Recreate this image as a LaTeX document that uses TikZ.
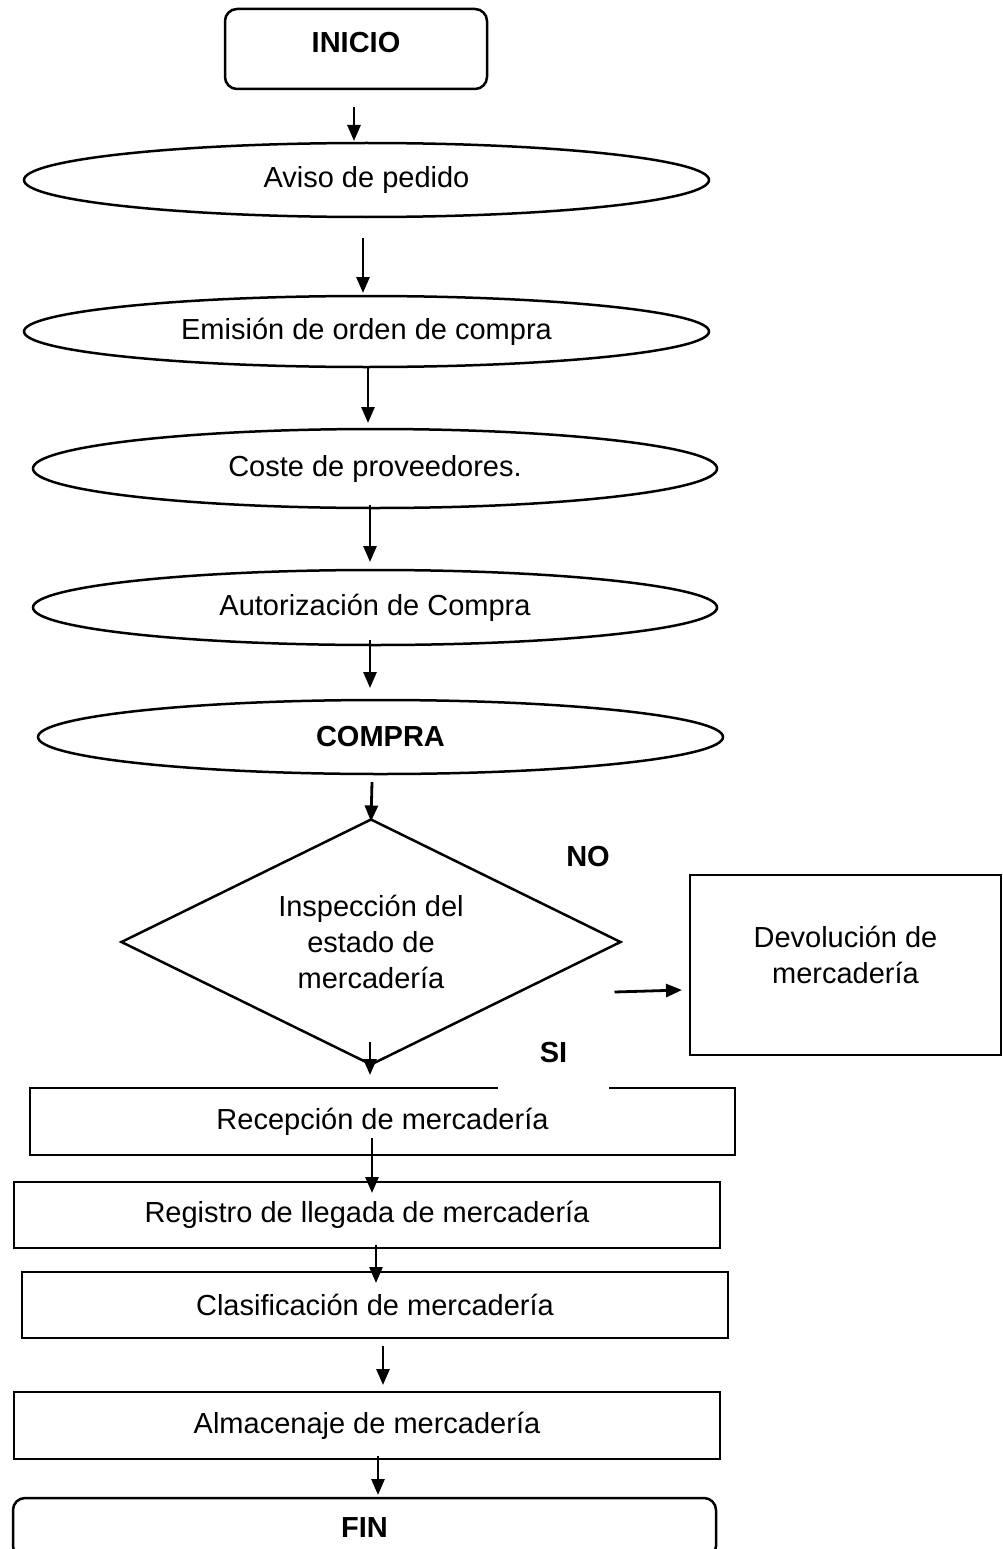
\documentclass[tikz,border=0pt]{standalone}
\usepackage{fontspec}
\setmainfont{Liberation Sans}
\usetikzlibrary{shapes,arrows.meta,positioning,calc}

\begin{document}
\begin{tikzpicture}[x=1pt, y=-1pt, >={Triangle[length=16pt,width=13pt]}]
  \tikzstyle{terminal}=[rectangle, draw, line width=2.5pt, rounded corners=12pt, outer sep=0pt, font=\bfseries\fontsize{29}{36}\selectfont]
  \tikzstyle{actividad}=[ellipse, draw, line width=2.5pt, minimum width=685pt, minimum height=74pt, inner sep=0pt, outer sep=0pt, font=\fontsize{29}{36}\selectfont]
  \tikzstyle{decision}=[diamond, draw, line width=2.5pt, aspect=2, minimum width=499pt, minimum height=245pt, inner sep=0pt, outer sep=0pt, align=center, font=\fontsize{29}{36}\selectfont]
  \tikzstyle{caja}=[rectangle, draw, line width=2.5pt, minimum width=706pt, minimum height=66pt, outer sep=0pt, align=center, font=\fontsize{29}{36}\selectfont]
  \tikzstyle{etiqueta}=[inner sep=2pt, font=\bfseries\fontsize{29}{36}\selectfont]
  \tikzstyle{flecha}=[->, line width=2.8pt]

  \useasboundingbox (0,0) rectangle (1003,1549);

  % Inicio
  \node[terminal, minimum width=262pt, minimum height=80pt, text depth=14pt] (inicio) at (356,49) {INICIO};

  % Pasos de la compra
  \node[actividad] (aviso) at (366.5,180) {Aviso de pedido};
  \node[actividad, minimum height=71pt] (orden) at (366.5,331.5) {Emisión de orden de compra};
  \node[actividad, minimum width=684pt, minimum height=79pt] (coste) at (375,468.5) {Coste de proveedores.};
  \node[actividad, minimum width=684pt, minimum height=75pt] (autoriza) at (375,607.5) {Autorización de Compra};
  \node[actividad, font=\bfseries\fontsize{29}{36}\selectfont] (compra) at (380.5,737) {COMPRA};

  % Inspeccion y devolucion
  \node[decision] (inspeccion) at (371,942) {Inspección del\\estado de\\mercadería};
  \node[caja, minimum width=311pt, minimum height=180pt, text depth=20pt] (devolucion) at (845.5,965) {Devolución de\\mercadería};

  % Recepcion hasta el fin
  \node[caja, minimum width=705pt, minimum height=67pt] (recepcion) at (382.5,1121.5) {Recepción de mercadería};
  \node[caja] (registro) at (367,1215) {Registro de llegada de mercadería};
  \node[caja] (clasifica) at (375,1305) {Clasificación de mercadería};
  \node[caja, minimum height=67pt] (almacena) at (367,1425.5) {Almacenaje de mercadería};
  \node[terminal, minimum width=703pt, minimum height=60pt] (fin) at (364.5,1528) {FIN};

  % Etiquetas
  \node[etiqueta] (no) at (588,857) {NO};
  \node[etiqueta, fill=white, minimum width=111pt, text depth=30pt, anchor=base] (si) at (553.5,1062) {SI};

  % Conexiones
  \draw[flecha] ($(inicio.south)+(-2,18)$) -- ($(aviso.north)+(-12.5,-2)$);
  \draw[flecha] ($(aviso.south)+(-3.5,21)$) -- ($(orden.north)+(-3.5,-3)$);
  \draw[flecha] ($(orden.south)+(1.5,1)$) -- ($(coste.north)+(-7,-6)$);
  \draw[flecha] ($(coste.south)+(-5,-3)$) -- ($(autoriza.north)+(-5,-8)$);
  \draw[flecha] ($(autoriza.south)+(-5,-5)$) -- ($(compra.north)+(-10.5,-12)$);
  \draw[flecha] ($(compra.south)+(-8.5,8)$) -- ($(inspeccion.north)+(0,2)$);
  \draw[flecha] ($(inspeccion.east)+(-6,50)$) -- ($(devolucion.west)+(-8,25)$);
  \draw[flecha] ($(inspeccion.south)+(-1,-23)$) -- ($(recepcion.north)+(-12.5,-13)$);
  \draw[flecha] ($(recepcion.south)+(-10.5,-17)$) -- ($(registro.north)+(5,11)$);
  \draw[flecha] ($(registro.south)+(9,-3)$) -- ($(clasifica.north)+(1,11)$);
  \draw[flecha] ($(clasifica.south)+(8,8)$) -- ($(almacena.north)+(16,-7)$);
  \draw[flecha] ($(almacena.south)+(11,-3)$) -- ($(fin.north)+(13.5,-3)$);
\end{tikzpicture}
\end{document}
